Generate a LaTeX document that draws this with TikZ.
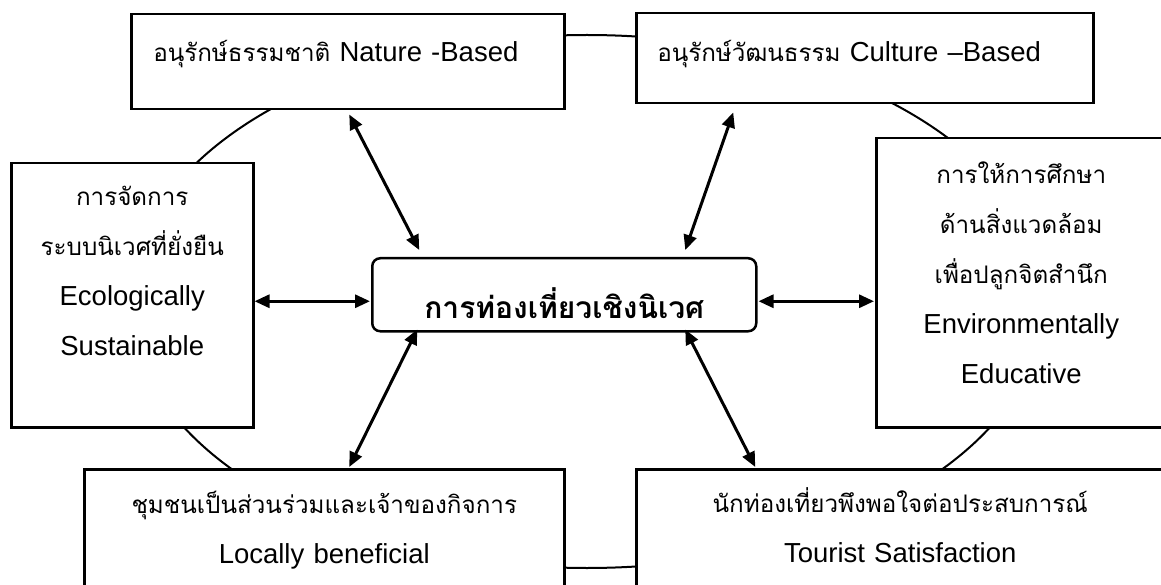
\documentclass[tikz,border=0pt]{standalone}
\usepackage{fontspec}
\setmainfont{Liberation Sans}
\newfontfamily\thaifont[Script=Thai]{Loma}
\usepackage{tikz}
\usetikzlibrary{
  arrows.meta,
  calc,
  positioning
}
\newcommand{\thtxt}[1]{{\thaifont\fontsize{24.2}{50}\selectfont #1}}
\tikzset{
  box/.style={
    draw, line width=2.5pt, fill=white,
    inner sep=0pt, anchor=north west, align=center,
    font=\fontsize{27.5}{50}\selectfont
  },
  hub/.style={box, rounded corners=8pt},
  link/.style={{Triangle[length=15pt,width=13pt]}-{Triangle[length=15pt,width=13pt]}, line width=3pt},
  ring/.style={line width=2pt},
}

\begin{document}
\begin{tikzpicture}[x=1pt, y=-1pt]

\useasboundingbox (0,0) rectangle (1161,585);
\clip (0,0) rectangle (1161,585);

% ring behind the six boxes
\draw[ring] (587,301.5) ellipse [x radius=457, y radius=266.5];

% outer boxes
\node[box, align=left, text width=389pt, inner xsep=22pt, text height=47pt, text depth=48pt]
  (nat) at (130,13) {\thtxt{อนุรักษ์ธรรมชาติ} Nature -Based};
\node[box, align=left, text width=415pt, inner xsep=21pt, text height=48pt, text depth=42pt]
  (cul) at (635,12) {\thtxt{อนุรักษ์วัฒนธรรม} Culture –Based};
\node[box, text width=242pt, text height=42pt, text depth=222pt]
  (eco) at (10,162) {\thtxt{การจัดการ}\\\thtxt{ระบบนิเวศที่ยั่งยืน}\\Ecologically\\Sustainable};
\node[box, text width=290pt, text height=45pt, text depth=244pt]
  (env) at (875,137) {\thtxt{การให้การศึกษา}\\\thtxt{ด้านสิ่งแวดล้อม}\\\thtxt{เพื่อปลูกจิตสำนึก}\\Environmentally\\Educative};
\node[box, text width=480pt, text height=44pt, text depth=150pt]
  (loc) at (83,468) {\thtxt{ชุมชนเป็นส่วนร่วมและเจ้าของกิจการ}\\Locally beneficial};
\node[box, text width=528pt, text height=43pt, text depth=150pt]
  (tou) at (635,468) {\thtxt{นักท่องเที่ยวพึงพอใจต่อประสบการณ์}\\Tourist Satisfaction};

% centre box
\node[hub, text width=384pt, text height=60pt, text depth=13pt]
  (ctr) at (371,257) {{\thaifont\bfseries\fontsize{30}{34}\selectfont การท่องเที่ยวเชิงนิเวศ}};

% two-way links
\draw[link] ($(nat.south)+(1.5,4)$) -- ($(ctr.north)+(-145,-7)$);
\draw[link] ($(cul.south)+(-131.5,8)$) -- ($(ctr.north)+(121,-7)$);
\draw[link] ($(eco.east)+(0,6)$) -- ($(ctr.west)+(-1,6.5)$);
\draw[link] ($(ctr.east)+(1,6.5)$) -- ($(env.west)+(-1,18.5)$);
\draw[link] ($(ctr.south)+(-147,-3)$) -- ($(loc.north)+(25,-1)$);
\draw[link] ($(ctr.south)+(121,-3)$) -- ($(tou.north)+(-145,-1)$);

\end{tikzpicture}
\end{document}
